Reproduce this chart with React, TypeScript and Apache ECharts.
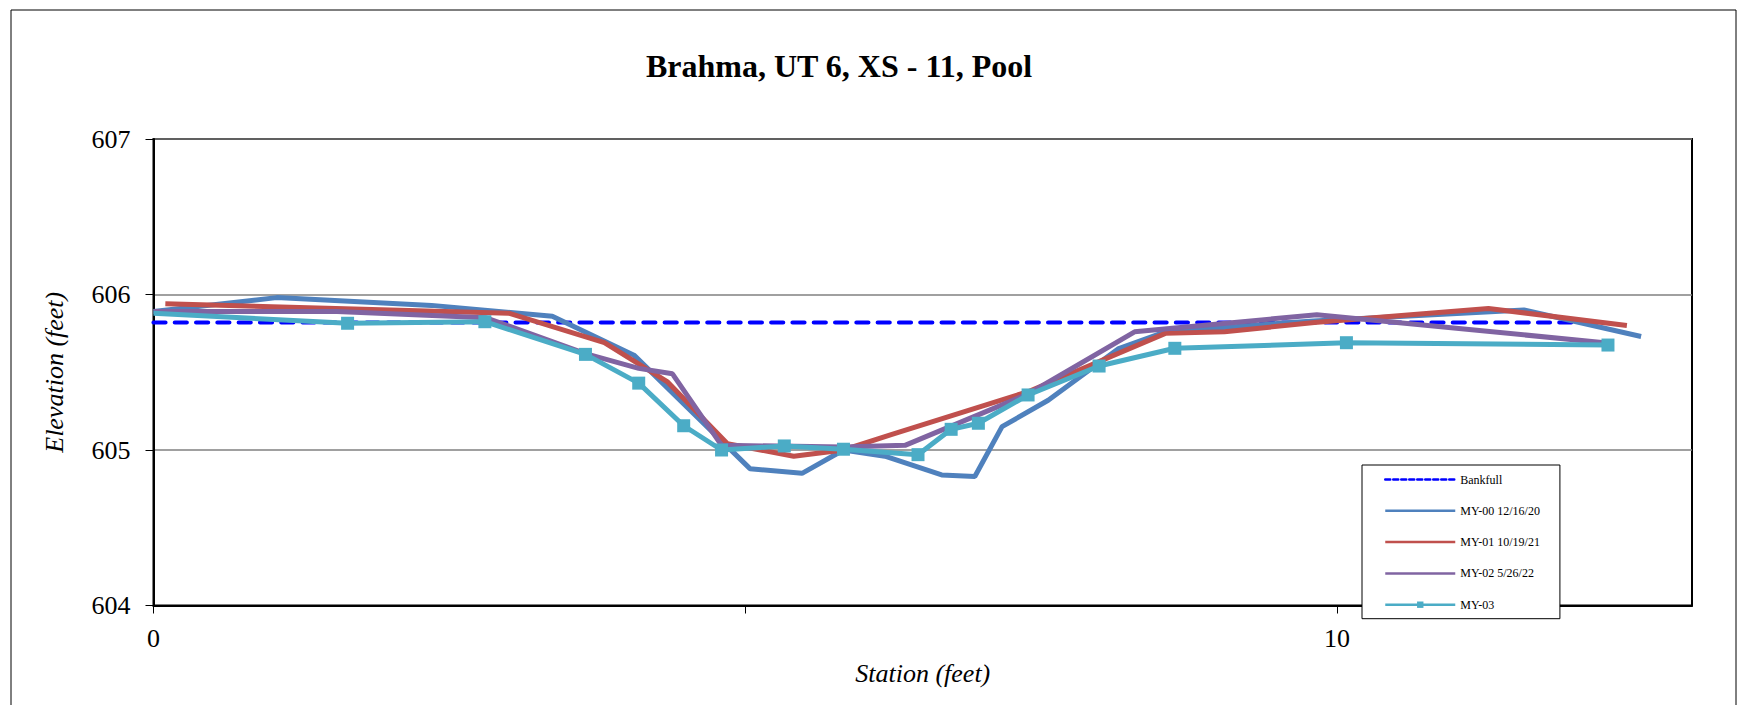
import React, { useEffect, useRef } from "react";
import * as echarts from "echarts";

const chartTitle = "Brahma, UT 6, XS - 11, Pool";
const xAxisName = "Station (feet)";
const yAxisName = "Elevation (feet)";
const xTickValues = [0, 5, 10];
const xLabelValues = [0, 10];

const bankfullStation = [0, 12];
const bankfullElev = [605.82, 605.82];

const my00Station = [0, 1.04, 2.35, 3.37, 4.06, 5.04, 5.48, 5.83, 6.18, 6.66, 6.94, 7.17, 7.56, 8.15, 8.55, 9.8, 11.58, 12.57];
const my00Elev = [605.89, 605.98, 605.93, 605.86, 605.61, 604.88, 604.85, 605.0, 604.96, 604.84, 604.83, 605.15, 605.32, 605.65, 605.76, 605.83, 605.9, 605.73];

const my01Station = [0.1, 3.0, 3.81, 4.34, 4.85, 5.41, 5.83, 6.24, 7.39, 8.55, 9.05, 9.81, 11.28, 12.45];
const my01Elev = [605.94, 605.88, 605.69, 605.44, 605.04, 604.96, 605.0, 605.1, 605.375, 605.75, 605.76, 605.82, 605.91, 605.8];

const my02Station = [0, 1.55, 2.81, 3.65, 4.1, 4.385, 4.8, 5.83, 6.35, 7.39, 8.29, 9.83, 12.26];
const my02Elev = [605.89, 605.89, 605.85, 605.62, 605.525, 605.49, 605.03, 605.02, 605.03, 605.36, 605.76, 605.87, 605.69];

const my03Station = [0, 1.64, 2.8, 3.65, 4.1, 4.48, 4.8, 5.33, 5.83, 6.46, 6.74, 6.97, 7.39, 7.99, 8.63, 10.08, 12.29];
const my03Elev = [605.88, 605.815, 605.825, 605.615, 605.43, 605.156, 605.0, 605.026, 605.005, 604.97, 605.133, 605.172, 605.354, 605.54, 605.654, 605.69, 605.675];

const zip = (xs: number[], ys: number[]) => xs.map((x, i) => [x, ys[i]]);

const FONT = '"Times New Roman", "Liberation Serif", serif';

export default function App() {
  const ref = useRef<HTMLDivElement>(null);
  useEffect(() => {
    if (!ref.current) return;
    const chart = echarts.init(ref.current, undefined, { renderer: "svg" });
    const my03Data = zip(my03Station, my03Elev).map((p, i) =>
      i === 0 ? { value: p, symbol: "none" } : { value: p }
    );
    const hideSym = { opacity: 0 };
    chart.setOption({
      animation: false,
      backgroundColor: "#ffffff",
      textStyle: { fontFamily: FONT },
      graphic: [
        {
          type: "rect",
          shape: { x: 11, y: 10, width: 1725, height: 800 },
          style: { fill: "none", stroke: "#000", lineWidth: 1 },
          silent: true,
        },
        {
          type: "text",
          x: 839,
          y: 66,
          style: {
            text: chartTitle,
            font: `bold 32px ${FONT}`,
            fill: "#000",
            align: "center",
            verticalAlign: "middle",
          },
        },
      ],
      grid: {
        left: 153.5,
        top: 139,
        right: 46,
        bottom: 99.5,
        show: true,
        borderColor: "#000",
        borderWidth: 2,
        backgroundColor: "transparent",
      },
      legend: {
        orient: "vertical",
        left: 1362,
        top: 465,
        padding: [8.5, 20, 8, 22],
        itemWidth: 70,
        itemHeight: 8,
        itemGap: 19.3,
        backgroundColor: "#fff",
        borderColor: "#000",
        borderWidth: 1,
        borderRadius: 0,
        textStyle: { fontFamily: FONT, fontSize: 12, color: "#000" },
        lineStyle: { width: 2.5 },
        data: [
          { name: "Bankfull", lineStyle: { type: [5, 3], width: 2.5 }, itemStyle: hideSym },
          { name: "MY-00 12/16/20", itemStyle: hideSym },
          { name: "MY-01 10/19/21", itemStyle: hideSym },
          { name: "MY-02 5/26/22", itemStyle: hideSym },
          { name: "MY-03" },
        ],
      },
      xAxis: {
        type: "value",
        min: 0,
        max: 13,
        name: xAxisName,
        nameLocation: "middle",
        nameGap: 55,
        nameTextStyle: { fontFamily: FONT, fontSize: 26, fontStyle: "italic", color: "#000" },
        axisLine: { show: true, lineStyle: { color: "#000", width: 2 } },
        axisTick: { show: true, inside: false, length: 8, customValues: xTickValues, lineStyle: { color: "#000", width: 1 } },
        axisLabel: {
          customValues: xLabelValues,
          fontFamily: FONT,
          fontSize: 26,
          color: "#000",
          margin: 20,
        },
        splitLine: { show: false },
      },
      yAxis: {
        type: "value",
        min: 604,
        max: 607,
        interval: 1,
        name: yAxisName,
        nameLocation: "middle",
        nameGap: 86,
        nameRotate: 90,
        nameTextStyle: { fontFamily: FONT, fontSize: 26, fontStyle: "italic", color: "#000" },
        axisLine: { show: true, lineStyle: { color: "#000", width: 2 } },
        axisTick: { show: true, inside: false, length: 8, lineStyle: { color: "#000", width: 1 } },
        axisLabel: { fontFamily: FONT, fontSize: 26, color: "#000", margin: 23 },
        splitLine: { show: true, lineStyle: { color: "#808080", width: 1.5 } },
      },
      series: [
        {
          name: "Bankfull",
          type: "line",
          data: zip(bankfullStation, bankfullElev),
          symbol: "none",
          lineStyle: { color: "#0000ff", width: 4.2, type: [12, 9.3], cap: "round" },
          itemStyle: { color: "#0000ff" },
          z: 1,
        },
        {
          name: "MY-00 12/16/20",
          type: "line",
          data: zip(my00Station, my00Elev),
          symbol: "none",
          lineStyle: { color: "#4f81bd", width: 5 },
          itemStyle: { color: "#4f81bd" },
          z: 2,
        },
        {
          name: "MY-01 10/19/21",
          type: "line",
          data: zip(my01Station, my01Elev),
          symbol: "none",
          lineStyle: { color: "#c0504d", width: 5 },
          itemStyle: { color: "#c0504d" },
          z: 3,
        },
        {
          name: "MY-02 5/26/22",
          type: "line",
          data: zip(my02Station, my02Elev),
          symbol: "none",
          lineStyle: { color: "#8064a2", width: 5 },
          itemStyle: { color: "#8064a2" },
          z: 4,
        },
        {
          name: "MY-03",
          type: "line",
          data: my03Data,
          symbol: "rect",
          symbolSize: 13,
          showAllSymbol: true,
          lineStyle: { color: "#4bacc6", width: 5 },
          itemStyle: { color: "#4bacc6" },
          z: 5,
        },
      ],
    });
    return () => chart.dispose();
  }, []);
  return (
    <div
      ref={ref}
      style={{ position: "absolute", left: 0, top: 0, width: 1738, height: 705 }}
    />
  );
}
